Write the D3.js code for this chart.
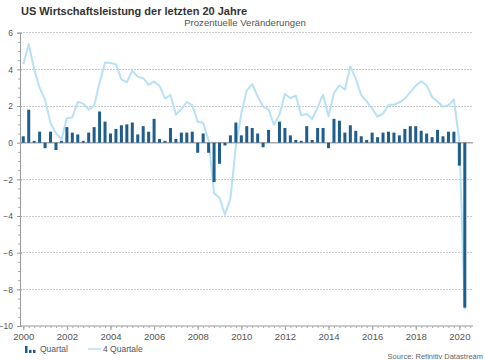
<!DOCTYPE html>
<html><head><meta charset="utf-8">
<script src="https://cdn.jsdelivr.net/npm/d3@7/dist/d3.min.js"></script>
<style>
body{margin:0;background:#fff;}
svg{display:block;font-family:"Liberation Sans",Arial,Helvetica,sans-serif;}
</style>
</head><body>
<svg id="chart" width="485" height="360"></svg>
<script>
// ---- Data ----
const title = "US Wirtschaftsleistung der letzten 20 Jahre";
const subtitle = "Prozentuelle Veränderungen";
const source = "Source: Refinitiv Datastream";
const seriesNames = ["Quartal", "4 Quartale"];

const years = d3.range(2000, 2021);
const quarters = years.flatMap(y => [1,2,3,4].map(q => ({year: y, q: q}))).slice(0, 82); // 2000Q1 .. 2020Q2

const quartal = [
  0.35, 1.8, 0.1, 0.6,
  -0.3, 0.6, -0.4, 0.1,
  0.85, 0.55, 0.45, 0.1,
  0.55, 0.85, 1.7, 1.15,
  0.5, 0.75, 0.95, 1.0,
  1.1, 0.45, 0.9, 0.6,
  1.3, 0.2, 0.1, 0.8,
  0.2, 0.55, 0.55, 0.6,
  -0.55, 0.5, -0.55, -2.15,
  -1.15, -0.15, 0.4, 1.1,
  0.4, 0.9, 0.8, 0.5,
  -0.25, 0.7, 0.0, 1.15,
  0.8, 0.4, 0.15, 0.1,
  0.9, 0.15, 0.8, 0.8,
  -0.3, 1.3, 1.2, 0.55,
  0.95, 0.65, 0.35, 0.15,
  0.55, 0.3, 0.55, 0.6,
  0.55, 0.4, 0.75, 0.9,
  0.9, 0.65, 0.5, 0.3,
  0.7, 0.35, 0.6, 0.6,
  -1.25, -9.0
];

const vierQuartale = [
  4.28, 5.38, 4.0, 3.0,
  2.35, 1.06, 0.51, 0.18,
  1.34, 1.38, 2.22, 2.13,
  1.8, 2.02, 3.27, 4.37,
  4.35, 4.28, 3.45, 3.3,
  3.93, 3.6, 3.52, 3.15,
  3.33, 3.1, 2.42, 2.6,
  1.53, 1.84, 2.22, 2.04,
  1.13, 1.09, 0.11, -2.75,
  -3.02, -3.93, -3.05, -0.2,
  1.6, 2.84, 3.2, 2.53,
  1.98, 1.8, 0.98, 1.53,
  2.65, 2.44, 2.56, 1.49,
  1.56, 1.29, 1.93, 2.62,
  1.44, 2.71, 3.13, 2.89,
  4.16, 3.49, 2.58, 2.25,
  1.85, 1.42, 1.58, 2.07,
  2.07, 2.2, 2.4, 2.76,
  3.11, 3.35, 3.13, 2.49,
  2.25, 1.96, 2.04, 2.36,
  0.1, -9.1
];

const yTickValues = [-10, -8, -6, -4, -2, 0, 2, 4, 6];
const xTickLabels = ["2000","2002","2004","2006","2008","2010","2012","2014","2016","2018","2020"];

// ---- Chart ----
const svg = d3.select("#chart");
const barColor = "#1f5d8c";
const lineColor = "#b6e1f8";
const textColor = "#555";

const x = d3.scaleLinear().domain([1999.85, 2020.58]).range([20, 472]);
const y = d3.scaleLinear().domain([-10, 6]).range([326, 32.7]);
const tOf = d => d.year + (d.q - 1) / 4;

// title
svg.append("text").attr("x", 21).attr("y", 15)
  .attr("font-size", 11).attr("font-weight", "bold").attr("fill", "#333")
  .text(title);
svg.append("text").attr("x", 245).attr("y", 26).attr("text-anchor", "middle")
  .attr("font-size", 9.6).attr("fill", textColor)
  .text(subtitle);

// gridlines
svg.append("g").selectAll("line")
  .data(yTickValues.filter(v => v !== 0 && v !== -10))
  .join("line")
  .attr("x1", 20).attr("x2", 473)
  .attr("y1", d => y(d)).attr("y2", d => y(d))
  .attr("stroke", "#c8c8c8").attr("stroke-width", 1)
  .attr("stroke-dasharray", "1.5,1.5")
  .attr("shape-rendering", "crispEdges");

// y axis
const yAxis = d3.axisLeft(y).tickValues(yTickValues).tickSize(3).tickPadding(4).tickFormat(d3.format("d"));
const gy = svg.append("g").attr("transform", "translate(20,0)").call(yAxis);
gy.select(".domain").attr("stroke", "#999");
gy.selectAll(".tick line").attr("stroke", "#999").attr("x2", -3).attr("x1", 2);
gy.selectAll(".tick text").attr("fill", textColor).attr("font-size", 8.5)
  .attr("font-family", "Liberation Sans, Arial, sans-serif");
// minor y ticks
const yMinor = d3.axisLeft(y).tickValues(d3.range(-10, 6.01, 0.5).filter(v => v % 2 !== 0)).tickSize(2).tickFormat("");
const gym = svg.append("g").attr("transform", "translate(20,0)").call(yMinor);
gym.select(".domain").remove();
gym.selectAll(".tick line").attr("stroke", "#aaa");

// x axis
const xAxis = d3.axisBottom(x).tickValues(xTickLabels.map(Number)).tickSize(4).tickPadding(3).tickFormat(d3.format("d"));
const gx = svg.append("g").attr("transform", "translate(0,326)").call(xAxis);
gx.select(".domain").attr("stroke", "#999").attr("d", "M20,0H473");
gx.selectAll(".tick line").attr("stroke", "#999");
gx.selectAll(".tick text").attr("fill", textColor).attr("font-size", 9.5)
  .attr("font-family", "Liberation Sans, Arial, sans-serif");
const xMinor = d3.axisBottom(x).tickValues(quarters.map(tOf).concat([2020.5])).tickSize(2).tickFormat("");
const gxm = svg.append("g").attr("transform", "translate(0,326)").call(xMinor);
gxm.select(".domain").remove();
gxm.selectAll(".tick line").attr("stroke", "#aaa");

// 4-quarter line
const line = d3.line().x((d, i) => x(tOf(quarters[i]))).y(d => y(d));
svg.append("path").datum(vierQuartale)
  .attr("d", line).attr("fill", "none")
  .attr("stroke", lineColor).attr("stroke-width", 2).attr("stroke-linejoin", "round");

// zero line
svg.append("line").attr("x1", 20).attr("x2", 473).attr("y1", y(0)).attr("y2", y(0))
  .attr("stroke", "#aaa").attr("stroke-width", 1.5);

// bars
const bw = 3;
svg.append("g").selectAll("rect").data(quartal).join("rect")
  .attr("x", (d, i) => x(tOf(quarters[i])) - bw / 2)
  .attr("width", bw)
  .attr("y", d => y(Math.max(0, d)))
  .attr("height", d => Math.abs(y(d) - y(0)))
  .attr("fill", barColor);

// legend
const lg = svg.append("g");
const iconScale = d3.scaleLinear().domain([0, 1]).range([353, 346]);
const iconVals = [1, 0.45, 0.45];
lg.selectAll("rect").data(iconVals).join("rect")
  .attr("x", (d, i) => 25 + i * 4).attr("width", 2.5)
  .attr("y", d => iconScale(d)).attr("height", d => 353 - iconScale(d))
  .attr("fill", barColor);
lg.append("text").attr("x", 40).attr("y", 352).attr("font-size", 8.5).attr("fill", textColor).text(seriesNames[0]);
lg.append("line").attr("x1", 88).attr("x2", 101).attr("y1", 349).attr("y2", 349)
  .attr("stroke", lineColor).attr("stroke-width", 1.5);
lg.append("text").attr("x", 103).attr("y", 352).attr("font-size", 8.5).attr("fill", textColor).text(seriesNames[1]);

// source
svg.append("text").attr("x", 483).attr("y", 359).attr("text-anchor", "end")
  .attr("font-size", 7.5).attr("fill", "#666").text(source);
</script>
</body></html>
